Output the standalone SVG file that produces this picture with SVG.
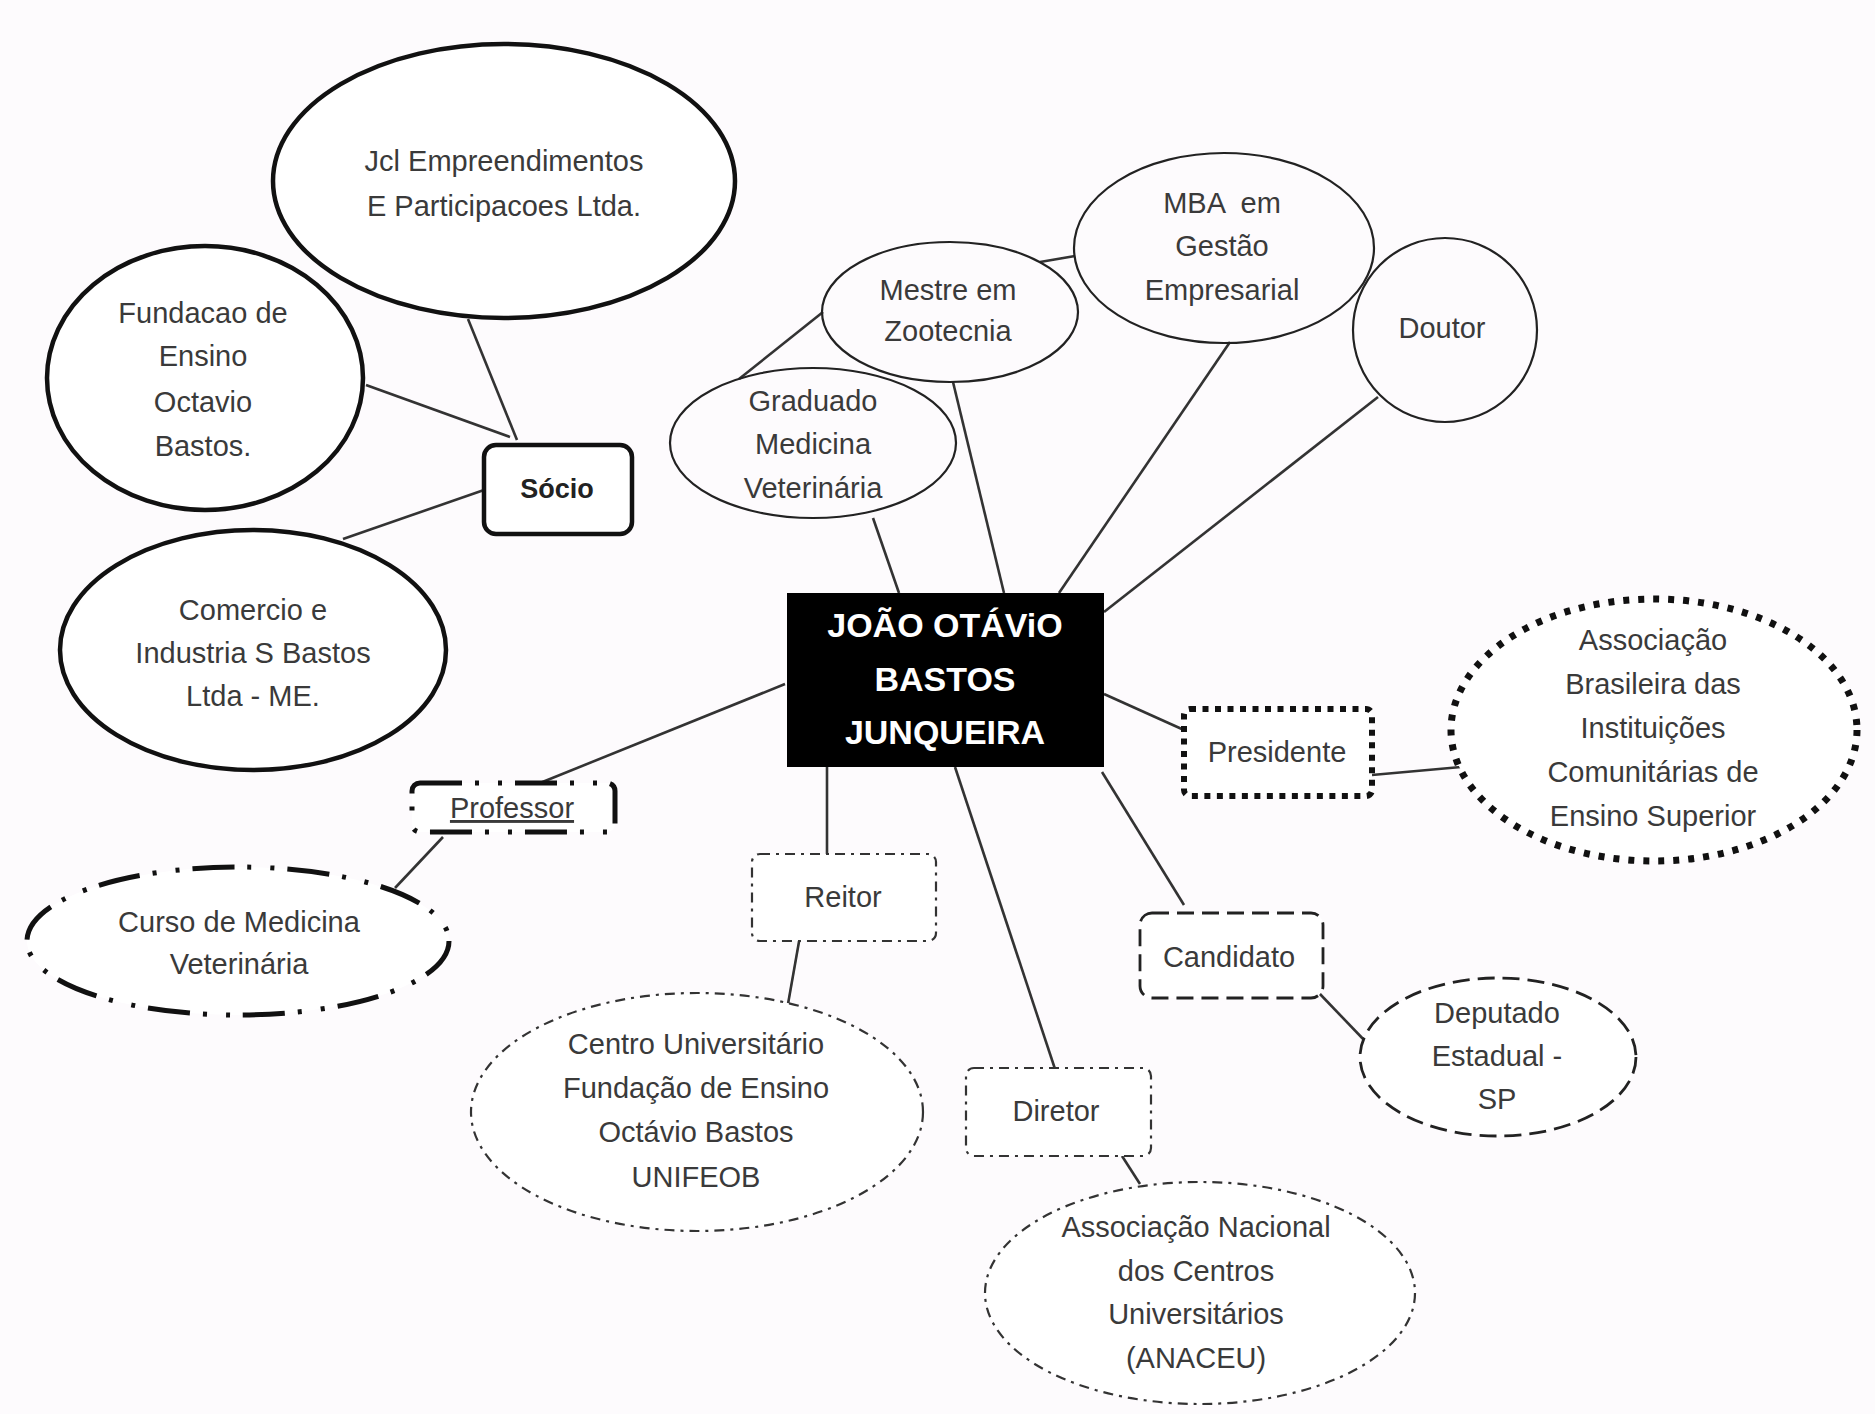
<svg xmlns="http://www.w3.org/2000/svg" width="1875" height="1414" viewBox="0 0 1875 1414">
<style>
text{font-family:"Liberation Sans",Arial,sans-serif;font-size:29px;fill:#3a3a3a;text-anchor:middle}
.thick{fill:#fff;stroke:#111;stroke-width:4.5}
.thin{fill:none;stroke:#222;stroke-width:2.2}
.conn line{stroke:#333;stroke-width:2.6}
.dotted{fill:#fff;stroke:#111;stroke-width:6;stroke-dasharray:6 6.5}
.dotbig{fill:#fff;stroke:#111;stroke-width:7;stroke-dasharray:6 9}
.dddot{fill:#fff;stroke:#111;stroke-width:5;stroke-dasharray:42 13 4 19 4 13}
.dash{fill:#fff;stroke:#222;stroke-width:2.8;stroke-dasharray:17 8}
.dashdot{fill:#fff;stroke:#333;stroke-width:2.2;stroke-dasharray:10 6 3 6}
.ctr{fill:#fff;font-weight:bold;font-size:34px}
</style>
<rect width="1875" height="1414" fill="#fdfbfd"/>
<g id="connectors" class="conn">
<line x1="468" y1="319" x2="517" y2="440"/>
<line x1="366" y1="385" x2="510" y2="437"/>
<line x1="343" y1="539" x2="484" y2="490"/>
<line x1="739" y1="379" x2="823" y2="312"/>
<line x1="1040" y1="262" x2="1075" y2="256"/>
<line x1="873" y1="518" x2="899" y2="593"/>
<line x1="953" y1="382" x2="1004" y2="593"/>
<line x1="1230" y1="342" x2="1059" y2="593"/>
<line x1="1378" y1="397" x2="1104" y2="612"/>
<line x1="1104" y1="694" x2="1184" y2="730"/>
<line x1="1372" y1="775" x2="1461" y2="767"/>
<line x1="1102" y1="772" x2="1184" y2="905"/>
<line x1="1319" y1="993" x2="1366" y2="1042"/>
<line x1="955" y1="767" x2="1055" y2="1069"/>
<line x1="1122" y1="1156" x2="1140" y2="1184"/>
<line x1="827" y1="767" x2="827" y2="854"/>
<line x1="800" y1="936" x2="788" y2="1004"/>
<line x1="785" y1="684" x2="540" y2="783"/>
<line x1="443" y1="837" x2="395" y2="888"/>
</g>
<g id="jcl"><ellipse class="thick" cx="504" cy="181" rx="231" ry="137"/>
<text x="504" y="171">Jcl Empreendimentos</text><text x="504" y="216">E Participacoes Ltda.</text></g>
<g id="fundacao"><ellipse class="thick" cx="205" cy="378" rx="158" ry="132"/>
<text x="203" y="323">Fundacao de</text><text x="203" y="366">Ensino</text><text x="203" y="412">Octavio</text><text x="203" y="456">Bastos.</text></g>
<g id="socio"><rect class="thick" x="484" y="445" width="148" height="89" rx="12"/>
<text x="557" y="498" style="font-weight:bold;font-size:27px;fill:#222">Sócio</text></g>
<g id="comercio"><ellipse class="thick" cx="253" cy="650" rx="193" ry="120"/>
<text x="253" y="620">Comercio e</text><text x="253" y="663">Industria S Bastos</text><text x="253" y="706">Ltda - ME.</text></g>
<g id="mestre"><ellipse class="thin" cx="950" cy="312" rx="128" ry="70"/>
<text x="948" y="300">Mestre em</text><text x="948" y="341">Zootecnia</text></g>
<g id="graduado"><ellipse class="thin" cx="813" cy="443" rx="143" ry="75"/>
<text x="813" y="411">Graduado</text><text x="813" y="454">Medicina</text><text x="813" y="498">Veterinária</text></g>
<g id="mba"><ellipse class="thin" cx="1224" cy="248" rx="150" ry="95"/>
<text x="1222" y="213" style="white-space:pre">MBA  em</text><text x="1222" y="256">Gestão</text><text x="1222" y="300">Empresarial</text></g>
<g id="doutor"><ellipse class="thin" cx="1445" cy="330" rx="92" ry="92"/>
<text x="1442" y="338">Doutor</text></g>
<g id="center"><rect x="787" y="593" width="317" height="174" fill="#000"/>
<text class="ctr" x="945" y="637">JOÃO OTÁViO</text><text class="ctr" x="945" y="691">BASTOS</text><text class="ctr" x="945" y="744">JUNQUEIRA</text></g>
<g id="presidente"><rect class="dotted" x="1184" y="709" width="188" height="87" rx="6"/>
<text x="1277" y="762">Presidente</text></g>
<g id="abrasileira"><ellipse class="dotbig" cx="1654" cy="730" rx="203" ry="131"/>
<text x="1653" y="650">Associação</text><text x="1653" y="694">Brasileira das</text><text x="1653" y="738">Instituições</text><text x="1653" y="782">Comunitárias de</text><text x="1653" y="826">Ensino Superior</text></g>
<g id="professor"><rect class="dddot" x="412" y="783" width="203" height="49" rx="8"/>
<text x="512" y="818" text-decoration="underline">Professor</text></g>
<g id="curso"><ellipse class="dddot" cx="238" cy="941" rx="211" ry="74"/>
<text x="239" y="932">Curso de Medicina</text><text x="239" y="974">Veterinária</text></g>
<g id="reitor"><rect class="dashdot" x="752" y="854" width="184" height="87" rx="8"/>
<text x="843" y="907">Reitor</text></g>
<g id="unifeob"><ellipse class="dashdot" cx="697" cy="1112" rx="226" ry="119"/>
<text x="696" y="1054">Centro Universitário</text><text x="696" y="1098">Fundação de Ensino</text><text x="696" y="1142">Octávio Bastos</text><text x="696" y="1187">UNIFEOB</text></g>
<g id="candidato"><rect class="dash" x="1140" y="913" width="183" height="85" rx="12"/>
<text x="1229" y="967">Candidato</text></g>
<g id="deputado"><ellipse class="dash" cx="1498" cy="1057" rx="138" ry="79"/>
<text x="1497" y="1023">Deputado</text><text x="1497" y="1066">Estadual -</text><text x="1497" y="1109">SP</text></g>
<g id="diretor"><rect class="dashdot" x="966" y="1068" width="185" height="88" rx="8"/>
<text x="1056" y="1121">Diretor</text></g>
<g id="anaceu"><ellipse class="dashdot" cx="1200" cy="1293" rx="215" ry="111"/>
<text x="1196" y="1237">Associação Nacional</text><text x="1196" y="1281">dos Centros</text><text x="1196" y="1324">Universitários</text><text x="1196" y="1368">(ANACEU)</text></g>
</svg>
